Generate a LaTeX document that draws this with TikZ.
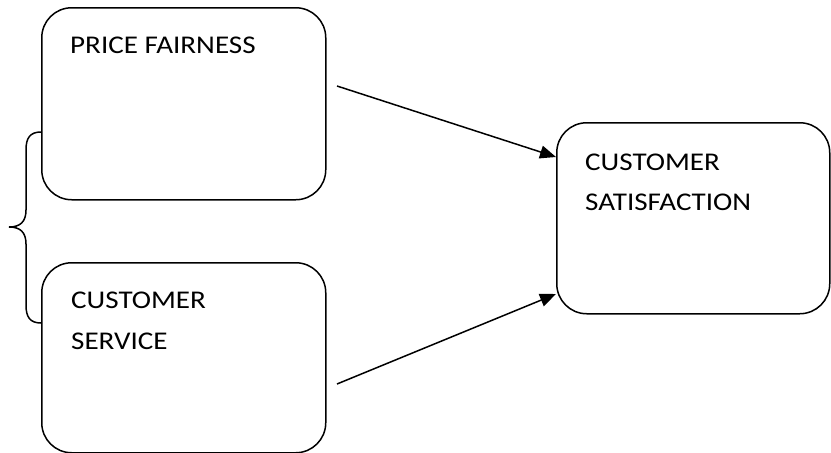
\documentclass[tikz,border=0pt]{standalone}
\usepackage{fontspec}
\setmainfont{Carlito}
\usetikzlibrary{arrows.meta}
\tikzset{
  box/.style={draw, line width=1.5pt, rounded corners=30pt, inner sep=0pt},
  lbl/.style={anchor=base west, inner sep=0pt, font=\fontsize{25.5}{30}\selectfont},
  conn/.style={line width=1.5pt, -{Triangle[length=16pt,width=13pt]}},
  brace/.style={line width=1.5pt}
}
\newcommand{\wide}[1]{\scalebox{1.14}[1]{#1}}
\begin{document}
\begin{tikzpicture}[x=1pt,y=-1pt]
\useasboundingbox (0,0) rectangle (831,453);
% boxes
\node[box, minimum width=284pt, minimum height=192pt, anchor=north west] (pf) at (41,7) {};
\node[box, minimum width=284pt, minimum height=190pt, anchor=north west] (cs) at (41,262) {};
\node[box, minimum width=273pt, minimum height=191pt, anchor=north west] (sat) at (556,122) {};
% texts
\node[lbl] (pft) at (70,53) {\wide{PRICE FAIRNESS}};
\node[lbl] (cst1) at (71,308) {\wide{CUSTOMER}};
\node[lbl] (cst2) at (71,349) {\wide{SERVICE}};
\node[lbl] (satt1) at (585,170) {\wide{CUSTOMER}};
\node[lbl] (satt2) at (585,210) {\wide{SATISFACTION}};
% connectors
\coordinate (a1) at (337,86);
\coordinate (a2) at (337,384);
\draw[conn] (a1) -- (sat.west |- 0,157);
\draw[conn] (a2) -- (sat.west |- 0,294);
% brace
\coordinate (bt) at (pf.west |- 0,132);
\coordinate (bb) at (cs.west |- 0,323);
\draw[brace] (bt) .. controls (30,132) and (26,138) .. (26,150) -- (26,210)
  .. controls (26,222) and (20,227) .. (9,227)
  .. controls (20,227) and (26,232) .. (26,244) -- (26,305)
  .. controls (26,317) and (30,323) .. (bb);
\end{tikzpicture}
\end{document}
